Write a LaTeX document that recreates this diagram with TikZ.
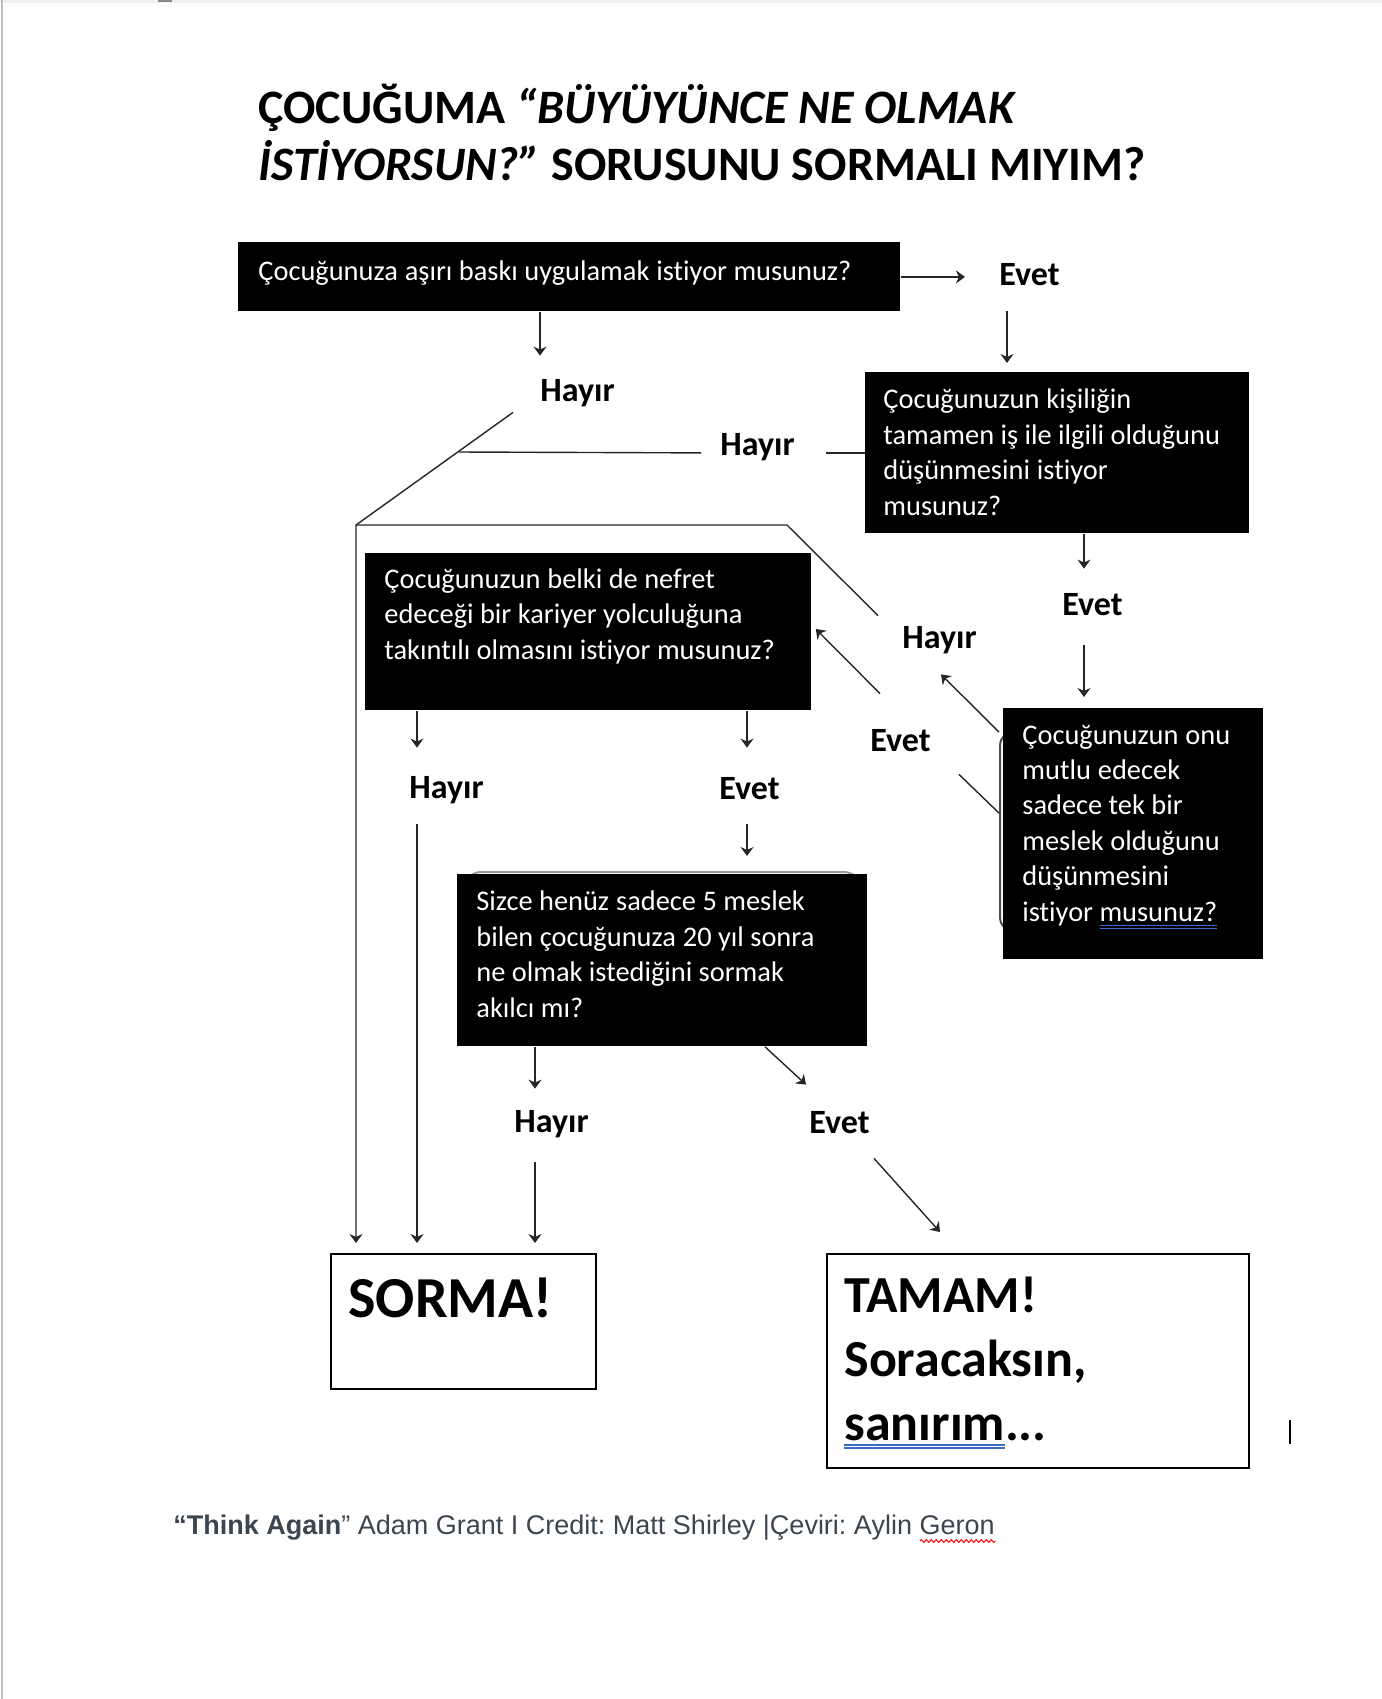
\documentclass[tikz,border=0pt]{standalone}
\usepackage{fontspec}
\setmainfont{Carlito}[Ligatures=NoCommon]
\newfontfamily\footfont{Liberation Sans}
\usetikzlibrary{arrows.meta,calc,decorations.pathmorphing}
\definecolor{ulblue}{HTML}{3A6BC9}
\definecolor{footgray}{HTML}{3C4650}
% double blue underline as Word draws it
\newcommand{\dblul}[1]{\leavevmode\vtop{\hbox{#1}\kern1.8pt{\color{ulblue}\hrule height0.75pt\kern0.8pt\hrule height0.75pt}}}
\newcommand{\wsp}{\hspace{3.5pt}}
\frenchspacing

\begin{document}
\begin{tikzpicture}[x=0.5pt,y=-0.5pt,
    qbox/.style={fill=black,inner sep=0,anchor=north west},
    qtext/.style={white,font=\fontsize{14.2}{17.7}\selectfont,align=left,inner sep=0,anchor=base west},
    endbox/.style={draw=black,line width=1.2pt,fill=white,inner sep=0,anchor=north west},
    lbl/.style={font=\fontsize{17}{20}\selectfont\bfseries,inner sep=0,text height=11pt,text depth=3pt,anchor=base west},
    ln/.style={draw=black!85,line width=0.7pt},
    arr/.style={ln,-{Stealth[length=4.5pt,width=6.5pt]}}]
    \useasboundingbox (0,0) rectangle (1382,1699);
    \fill[white] (0,0) rectangle (1382,1699);
    % page edges
    \fill[black!6] (0,0) rectangle (1382,3);
    \fill[black!45] (158,0) rectangle (172,2);
    \draw[black!25,line width=1pt] (1.5,0) -- (1.5,1699);

    % title
    \node[font=\fontsize{24}{28}\selectfont\bfseries,inner sep=0,anchor=base west] (t1) at (258,123)
        {ÇOCUĞUMA \itshape “BÜYÜYÜNCE NE OLMAK};
    \node[font=\fontsize{24}{28}\selectfont\bfseries,inner sep=0,anchor=base west] (t2) at (258,180)
        {\itshape İSTİYORSUN?”\upshape{} SORUSUNU SORMALI MIYIM?};

    % question boxes (text nodes sit on the baseline of their last line)
    \node[qbox,minimum width=331pt,minimum height=34.5pt] (q1) at (238,242) {};
    \node[qtext] (q1t) at (258,280) {Çocuğunuza\wsp aşırı baskı uygulamak\wsp istiyor musunuz?};
    \node[qbox,minimum width=192pt,minimum height=80.5pt] (q2) at (865,372) {};
    \node[qtext] (q2t) at (883,515) {Çocuğunuzun\wsp kişiliğin\\tamamen iş ile ilgili olduğunu\\düşünmesini\wsp istiyor\\musunuz?};
    \node[qbox,minimum width=223pt,minimum height=78.5pt] (q3) at (365,553) {};
    \node[qtext] (q3t) at (384,659) {Çocuğunuzun\wsp belki de nefret\\edeceği bir kariyer yolculuğuna\\takıntılı olmasını istiyor musunuz?};
    \draw[black!70,line width=1pt,rounded corners=6pt] (1012,733) -- (1000,733) -- (1000,930) -- (1012,930);
    \node[qbox,minimum width=130pt,minimum height=125.5pt] (q4) at (1003,708) {};
    \node[qtext] (q4t) at (1022,921) {Çocuğunuzun\wsp onu\\mutlu\wsp edecek\\sadece tek bir\\meslek olduğunu\\düşünmesini\\istiyor \dblul{musunuz?}};
    \draw[black!40,line width=1pt,rounded corners=4pt] (470,876) -- (472,872) -- (852,872) -- (856,876);
    \node[qbox,minimum width=205pt,minimum height=86pt] (q5) at (457,874) {};
    \node[qtext] (q5t) at (476,1017) {Sizce henüz\wsp sadece 5 meslek\\bilen çocuğunuza\wsp 20 yıl sonra\\ne olmak istediğini sormak\\akılcı mı?};

    % answer boxes
    \node[endbox,minimum width=132.5pt,minimum height=67.5pt] (sorma) at (330,1253) {};
    \node[font=\fontsize{29}{32}\selectfont\bfseries,inner sep=0,anchor=base west] (sormat) at (348,1317) {SORMA!};
    \node[endbox,minimum width=211pt,minimum height=107pt] (tamam) at (826,1253) {};
    \node[font=\fontsize{26}{32}\selectfont\bfseries,inner sep=0,align=left,anchor=base west] (tamamt) at (844,1440)
        {TAMAM!\\Soracaksın,\\\dblul{sanırım}...};

    % yes / no labels
    \node[lbl] (e1) at (999,285) {Evet};
    \node[lbl] (h1) at (540,401) {Hayır};
    \node[lbl] (h2) at (720,455) {Hayır};
    \node[lbl] (e2) at (1062,615) {Evet};
    \node[lbl] (h3) at (902,648) {Hayır};
    \node[lbl] (e3) at (870,751) {Evet};
    \node[lbl] (h4) at (409,798) {Hayır};
    \node[lbl] (e4) at (719,799) {Evet};
    \node[lbl] (h5) at (514,1132) {Hayır};
    \node[lbl] (e5) at (809,1133) {Evet};

    % junctions
    \coordinate (k0) at (459,452);
    \coordinate (k1) at (356,525);
    \coordinate (k2) at (787,525);

    % connectors
    \draw[arr,shorten >=17pt] (q1.east) -- (q1.east -| e1.west);
    \draw[arr] ($(e1.south west)+(8,20)$) -- ($(q2.north west)+(142,-9)$);
    \draw[arr] (q1.south -| h1.west) -- ($(h1.north west)+(0,-23)$);
    \draw[ln] ($(h1.south west)+(-27,5)$) -- (k1);
    \draw[ln] (q2.west) -- ($(h2.east |- q2.west)+(31,0)$);
    \draw[ln] ($(h2.west |- q2.west)+(-19,0)$) -- (k0);
    \draw[arr,shorten >=5pt] ($(h3.north west)+(-24,-10)$) -- (k2) -- (k1) -- (k1 |- sorma.north);
    \draw[arr] ($(q4.north west)+(-4,24)$) -- ($(h3.south west)+(39,20)$);
    \draw[ln] ($(q4.north west)+(-4,105)$) -- ($(e3.south east)+(28,17)$);
    \draw[arr] ($(e3.north west)+(10,-35)$) -- ($(q3.north east)+(4,76)$);
    \draw[arr] ($(q3.south west)+(52,0)$) -- ($(h4.north west)+(8,-28)$);
    \draw[arr] ($(h4.south west)+(8,20)$) -- ($(sorma.north west)+(87,-10)$);
    \draw[arr] ($(q3.south west)+(382,0)$) -- ($(e4.north west)+(28,-29)$);
    \draw[arr] ($(e4.south west)+(28,19)$) -- ($(q5.north west)+(290,-18)$);
    \draw[arr] ($(q2.south west)+(219,0)$) -- ($(e2.north west)+(22,-24)$);
    \draw[arr] ($(e2.south west)+(22,24)$) -- ($(q4.north west)+(81,-11)$);
    \draw[arr] ($(q5.south west)+(78,0)$) -- ($(h5.north west)+(21,-21)$);
    \draw[arr] ($(h5.south west)+(21,24)$) -- ($(sorma.north west)+(205,-10)$);
    \draw[arr] ($(q5.south west)+(308,0)$) -- ($(e5.north west)+(-3,-26)$);
    \draw[arr] ($(e5.south west)+(65,19)$) -- ($(tamam.north west)+(114,-21)$);

    % text cursor
    \draw[line width=1pt] (1290,1420) -- (1290,1444);

    % footer
    \node[font=\footfont\fontsize{13.5}{16}\selectfont,text=footgray,inner sep=0,anchor=base west] (foot) at (173,1534)
        {\textbf{“Think Again}” Adam Grant I Credit: Matt Shirley |Çeviri: Aylin Geron};
    \draw[red,line width=0.5pt,decorate,decoration={zigzag,segment length=2.5pt,amplitude=0.7pt}]
        ($(foot.base east)+(-75,7)$) -- ($(foot.base east)+(0,7)$);
\end{tikzpicture}
\end{document}
